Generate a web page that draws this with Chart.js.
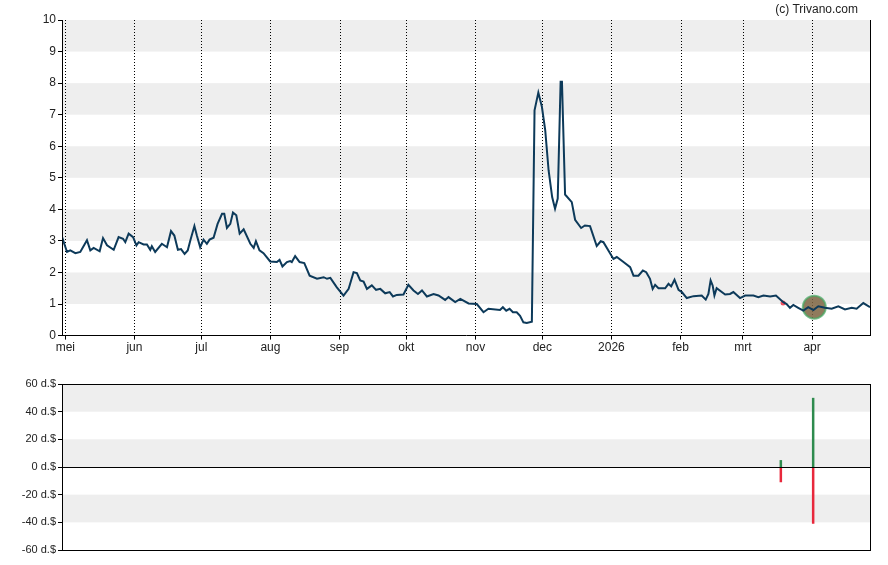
<!DOCTYPE html>
<html><head><meta charset="utf-8">
<script src="https://cdn.jsdelivr.net/npm/chart.js@4"></script>
<style>body{margin:0;background:#fff;width:888px;height:565px;overflow:hidden;font-family:Arial,"Liberation Sans",sans-serif}
#c1{position:absolute;left:0;top:0}#c2{position:absolute;left:0;top:370px}
#cp{position:absolute;right:30px;top:2px;font-size:12px;color:#222}</style></head>
<body><div style="position:relative;width:888px;height:565px">
<canvas id="c1" width="888" height="356"></canvas><canvas id="c2" width="888" height="190"></canvas>
<div id="cp">(c) Trivano.com</div></div>
<script>
const monthLabels=["mei","jun","jul","aug","sep","okt","nov","dec","2026","feb","mrt","apr"];
const monthDays=[0,31,61,92,123,153,184,214,245,276,304,335];
const days=[-1,-0.7,0.75,2.2,4.5,6.7,9.7,11.2,12.7,15.4,16.9,18.7,21.7,23.9,25.9,26.9,28.4,30.4,31.9,32.9,35.1,36.6,38.1,38.8,40.3,43.3,45.6,47.4,48.9,50.5,51.9,53.5,54.9,56.1,57.9,59,60.5,62,63.5,64.7,66.5,68.3,70.3,71.3,72.5,74,75.2,76.7,78.2,80,83,84.5,85.5,87.1,88.9,91.9,94.9,96.1,97.4,99.4,100.9,101.6,103.1,105.1,107.2,109.6,112.9,115.9,117.4,118.9,121.8,124.8,127.1,129.3,130.8,132.3,133.8,135.3,137.5,139.4,141.3,143.5,145.5,147,148.7,151.7,153.9,156.2,158.2,160,162.2,165.2,167.4,170.4,171.9,174.9,177.2,180.9,184.6,187.6,189.8,195,196.3,197.8,199.3,200.8,202.5,204,205.5,207,209.3,210.5,212.2,213.8,215.3,216.8,218.4,219.7,220.9,222.2,222.8,224.2,227.2,228.7,231.4,233.1,235.4,238.4,240.2,241.4,245.9,247.4,250.4,253.4,254.9,257.1,259.1,260.6,262.3,263.5,264.6,266.1,269.1,270.6,271.8,273.3,275.1,276.6,278.8,281.8,285.5,287.3,288.5,289.5,290.4,291.2,292.2,296,298.2,299.7,302.7,305,308.7,310.9,313.2,316.2,318.8,322.1,323.6,325.1,326.6,328.8,331.1,333.3,335.6,337.8,340.8,343.8,346.8,349.8,352.8,355,358,361];
const prices=[2.93,2.96,2.65,2.7,2.61,2.65,3.02,2.7,2.78,2.67,3.09,2.86,2.72,3.12,3.07,2.96,3.23,3.12,2.86,2.96,2.89,2.89,2.72,2.83,2.65,2.91,2.8,3.31,3.17,2.72,2.74,2.59,2.7,3.02,3.47,3.17,2.8,3.04,2.91,3.04,3.1,3.54,3.86,3.86,3.41,3.54,3.9,3.81,3.23,3.37,2.91,2.78,2.99,2.7,2.61,2.35,2.33,2.4,2.19,2.33,2.36,2.33,2.52,2.33,2.3,1.9,1.8,1.85,1.8,1.83,1.53,1.27,1.48,2.01,1.98,1.75,1.71,1.48,1.59,1.45,1.48,1.34,1.38,1.24,1.29,1.3,1.61,1.43,1.32,1.43,1.24,1.32,1.27,1.13,1.22,1.06,1.16,1.02,1.0,0.74,0.85,0.81,0.9,0.79,0.85,0.74,0.74,0.63,0.42,0.4,0.44,7.14,7.7,7.25,6.5,5.24,4.39,4.02,4.34,8.04,8.04,4.47,4.23,3.67,3.41,3.49,3.47,2.84,2.99,2.96,2.43,2.49,2.33,2.17,1.9,1.9,2.06,2.01,1.8,1.48,1.61,1.5,1.5,1.64,1.56,1.77,1.45,1.38,1.19,1.25,1.27,1.14,1.32,1.75,1.59,1.27,1.5,1.3,1.32,1.38,1.19,1.27,1.27,1.22,1.27,1.24,1.27,1.06,1.0,0.88,0.97,0.88,0.79,0.9,0.81,0.93,0.88,0.85,0.93,0.83,0.88,0.85,1.03,0.9];
const volDays=[321,335.5];
const volUp=[5,50];
const volDown=[-11,-41];
const markerDay=[336], markerVal=[0.9];
const redDotDay=[322], redDotVal=[1.03];
const topTicks=[0,1,2,3,4,5,6,7,8,9,10];
const bottomTicks=[-60,-40,-20,0,20,40,60];

const bands={id:'bands',beforeDraw(c,a,o){const {ctx,chartArea:ca,scales:{y}}=c;ctx.save();ctx.fillStyle='#eeeeee';
 for(const [lo,hi] of o.ranges){const t=y.getPixelForValue(hi),b=y.getPixelForValue(lo);ctx.fillRect(ca.left,t,ca.right-ca.left,b-t);}ctx.restore();}};
const vgrid={id:'vgrid',beforeDatasetsDraw(c,a,o){if(!o.on)return;const {ctx,chartArea:ca,scales:{x}}=c;ctx.save();ctx.strokeStyle='#000';ctx.lineWidth=1;ctx.setLineDash([1,2]);
 for(const d of monthDays){const px=Math.round(x.getPixelForValue(d))+0.5;ctx.beginPath();ctx.moveTo(px,ca.top);ctx.lineTo(px,ca.bottom);ctx.stroke();}ctx.restore();}};
const yFit=s=>{s.width=62;};
const font={family:'Arial, "Liberation Sans", sans-serif',size:11};
const tickGrid={display:true,drawOnChartArea:false,drawTicks:true,tickLength:4,color:'#000'};

new Chart(document.getElementById('c1'),{type:'line',
 data:{datasets:[
  {data:days.map((d,i)=>({x:d,y:prices[i]})),borderColor:'#0d3a5a',borderWidth:2,pointRadius:0,tension:0},
  {data:redDotDay.map((d,i)=>({x:d,y:redDotVal[i]})),showLine:false,pointRadius:2.5,pointBackgroundColor:'#f05060',pointBorderWidth:0},
  {data:markerDay.map((d,i)=>({x:d,y:markerVal[i]})),showLine:false,pointRadius:11.5,pointBackgroundColor:'rgba(125,100,65,0.85)',pointBorderColor:'rgba(70,170,100,0.7)',pointBorderWidth:2}
 ]},
 options:{responsive:false,animation:false,layout:{padding:{top:20,right:18,left:0,bottom:0}},
  plugins:{legend:{display:false},tooltip:{enabled:false},bands:{ranges:[[1,2],[3,4],[5,6],[7,8],[9,10]]},vgrid:{on:true}},
  scales:{
   x:{type:'linear',min:-1.5,max:361,grid:tickGrid,border:{color:'#000'},
    afterBuildTicks:s=>{s.ticks=monthDays.map(v=>({value:v}));},
    ticks:{autoSkip:false,maxRotation:0,color:'#222',font:{...font,size:12},padding:1,callback:(v)=>monthLabels[monthDays.indexOf(v)]}},
   y:{min:0,max:10,afterFit:yFit,grid:tickGrid,border:{color:'#000'},
    afterBuildTicks:s=>{s.ticks=topTicks.map(v=>({value:v}));},ticks:{color:'#222',font:{...font,size:12},padding:2}},
   y2:{position:'right',min:0,max:10,grid:{display:false},ticks:{display:false},border:{color:'#000'},afterFit:s=>{s.width=0;}}
  }},plugins:[bands,vgrid]});

const vds=[];
volDays.forEach((d,i)=>{
 vds.push({data:[{x:d,y:0},{x:d,y:volUp[i]}],borderColor:'#2e8b4e',borderWidth:2.5,pointRadius:0});
 vds.push({data:[{x:d,y:0},{x:d,y:volDown[i]}],borderColor:'#e8283c',borderWidth:2.5,pointRadius:0});
});
const zero={id:'zero',afterDatasetsDraw(c){const {ctx,chartArea:ca,scales:{y}}=c;const py=Math.round(y.getPixelForValue(0))+0.5;ctx.save();ctx.strokeStyle='#000';ctx.lineWidth=1;ctx.beginPath();ctx.moveTo(ca.left,py);ctx.lineTo(ca.right,py);ctx.stroke();
 ctx.strokeRect(Math.round(ca.left)+0.5,Math.round(ca.top)+0.5,Math.round(ca.right-ca.left),Math.round(ca.bottom-ca.top));ctx.restore();}};
new Chart(document.getElementById('c2'),{type:'line',data:{datasets:vds},
 options:{responsive:false,animation:false,layout:{padding:{top:14,right:18,left:0,bottom:10}},
  plugins:{legend:{display:false},tooltip:{enabled:false},bands:{ranges:[[40,60],[0,20],[-40,-20]]}},
  scales:{
   x:{type:'linear',min:-1.5,max:361,display:false},
   y:{min:-60,max:60,afterFit:yFit,grid:tickGrid,border:{color:'#000'},
    afterBuildTicks:s=>{s.ticks=bottomTicks.map(v=>({value:v}));},ticks:{color:'#222',font,padding:2,callback:v=>v+' d.$'}}
  }},plugins:[bands,zero]});
</script></body></html>
